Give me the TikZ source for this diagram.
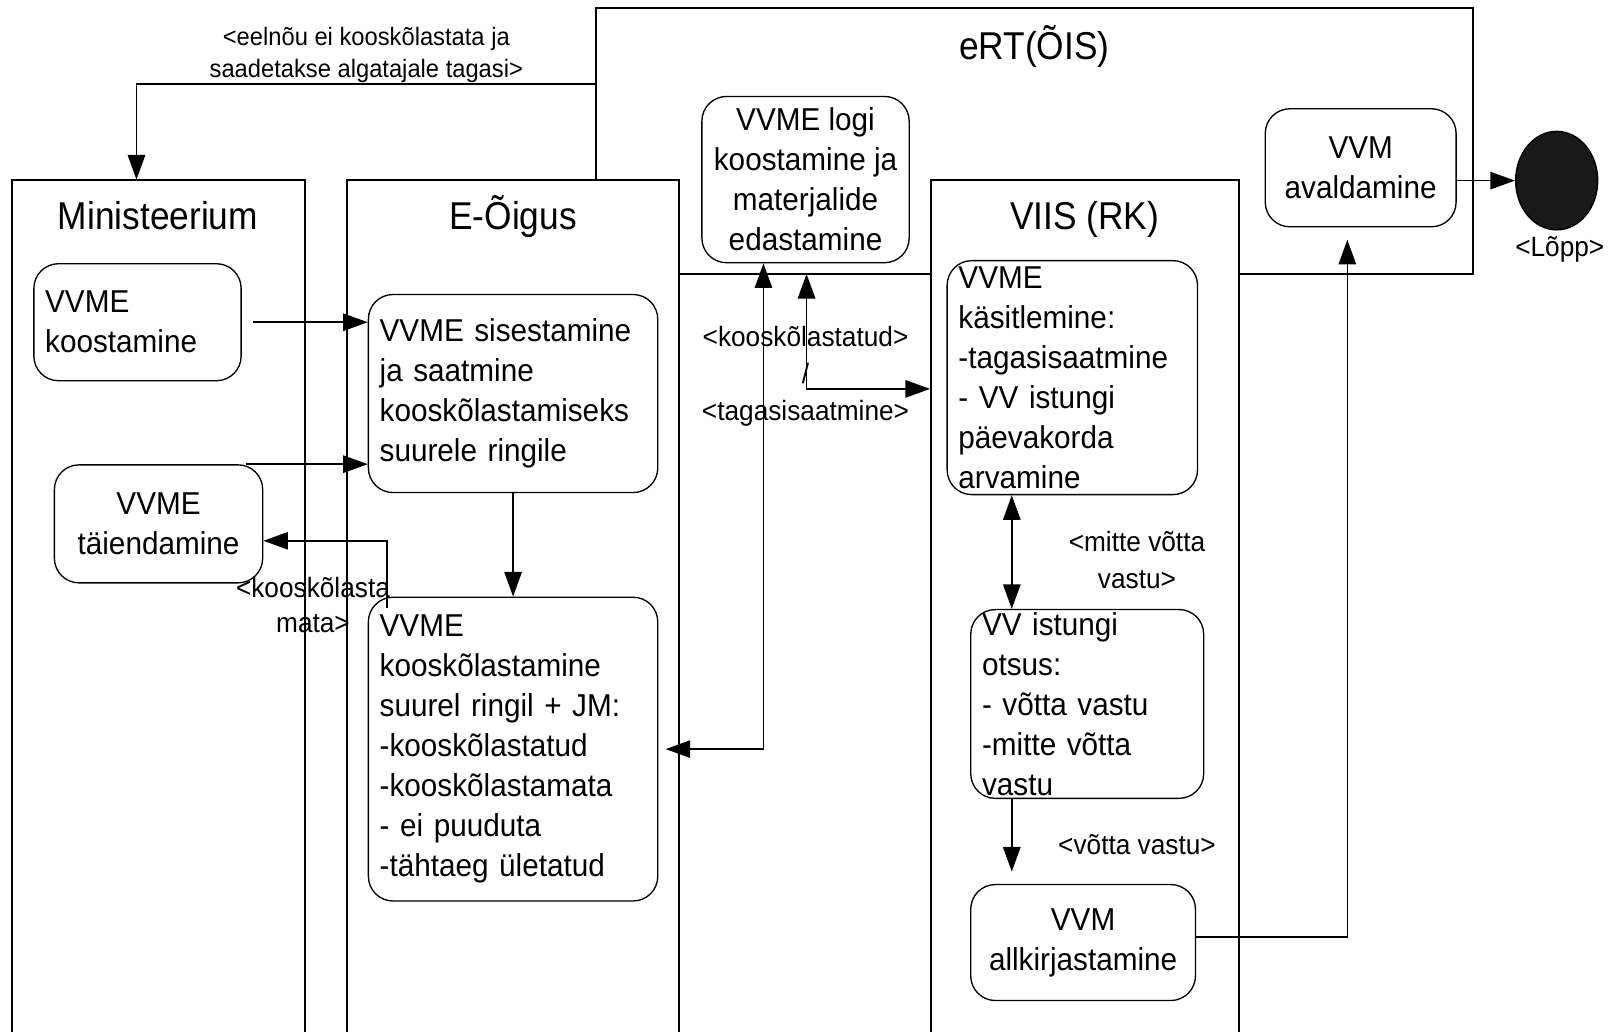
\documentclass[tikz,border=0pt]{standalone}
\usepackage{fontspec}
\setmainfont{Liberation Sans}
\newfontfamily\nodefont[FakeStretch=0.94]{Liberation Sans}
\newfontfamily\titlefont[FakeStretch=0.91]{Liberation Sans}
\usetikzlibrary{arrows.meta,shapes.geometric}
\begin{document}
\begin{tikzpicture}[x=1pt,y=-1pt,
  lane/.style={line width=2pt},
  box/.style={draw,rounded corners=24pt,line width=1.3pt,fill=white,inner xsep=11pt,inner ysep=0pt,font=\nodefont\fontsize{30.8}{39}\selectfont},
  lbox/.style={box,align=left},
  cbox/.style={box,align=center},
  ttl/.style={font=\titlefont\fontsize{37.8}{40}\selectfont,anchor=base,inner sep=0pt},
  lbl/.style={font=\nodefont\fontsize{27.2}{36}\selectfont,align=center,inner sep=0pt},
  conn/.style={line width=1.5pt,-{Triangle[length=24pt,width=17pt]}},
  conn2/.style={line width=1.5pt,{Triangle[length=24pt,width=17pt]}-{Triangle[length=24pt,width=17pt]}},
]
\useasboundingbox (0,0) rectangle (1568,1005);
% eRT(ÕIS) container
\draw[lane] (581,175) |- (1435,8) |- (1207,267);
\draw[lane] (907,267) -- (662,267);
% swimlanes
\draw[lane] (12,1010) |- (297,175) -- (297,1010);
\draw[lane] (338,1010) |- (662,175) -- (662,1010);
\draw[lane] (907,1010) |- (1207,175) -- (1207,1010);
% titles
\node[ttl] (tmin) at (154,224) {Ministeerium};
\node[ttl] (teo) at (500,224) {E-Õigus};
\node[ttl] (tviis) at (1057,224) {VIIS (RK)};
\node[ttl] (tert) at (1008,58) {eRT(ÕIS)};
% activity nodes
\node[lbox,text width=180pt,minimum height=114pt] (koost) at (134,314) {VVME\\koostamine};
\node[cbox,minimum width=203pt,minimum height=115pt] (taiend) at (154.5,510.5) {VVME\\täiendamine};
\node[lbox,text width=260pt,minimum height=193pt] (sises) at (500,383.5) {VVME sisestamine\\ja saatmine\\kooskõlastamiseks\\suurele ringile};
\node[lbox,text width=260pt,minimum height=296pt] (kook) at (500,730) {VVME\\kooskõlastamine\\suurel ringil + JM:\\-kooskõlastatud\\-kooskõlastamata\\- ei puuduta\\-tähtaeg ületatud};
\node[cbox,minimum width=202pt,minimum height=162pt] (logi) at (785,175) {VVME logi\\koostamine ja\\materjalide\\edastamine};
\node[cbox,minimum width=186pt,minimum height=115pt] (aval) at (1326,163.5) {VVM\\avaldamine};
\node[lbox,text width=222pt,minimum height=228pt] (kasit) at (1045,368) {VVME\\käsitlemine:\\-tagasisaatmine\\- VV istungi\\päevakorda\\arvamine};
\node[lbox,text width=205pt,minimum height=184pt] (otsus) at (1059.5,686) {VV istungi\\otsus:\\- võtta vastu\\-mitte võtta\\vastu};
\node[cbox,minimum width=219pt,minimum height=113pt] (allk) at (1055.5,918.5) {VVM\\allkirjastamine};
\node[ellipse,draw,fill=black!90,line width=1.3pt,minimum width=80pt,minimum height=96pt,inner sep=0pt] (lopp) at (1517,176) {};
% free ends
\coordinate (ertL) at (581,82);
\coordinate (minT) at (133,175);
\coordinate (ertB) at (786,267);
% connectors
\draw[conn] (ertL) -| (minT);
\draw[conn] ([xshift=11pt]koost.east) -- (sises.west |- koost.east);
\draw[conn] ([xshift=85.5pt]taiend.north) -- (sises.west |- taiend.north);
\draw[conn] (sises.south) -- (kook.north);
\draw[conn] ([xshift=19pt,yshift=-11pt]kook.north west) |- ([yshift=-16.5pt]taiend.east);
\draw[conn2] ([xshift=-41pt]logi.south) |- ([xshift=7pt]kook.east);
\draw[conn2] (ertB) |- ([xshift=-16pt,yshift=-11pt]kasit.west);
\draw[conn2] ([xshift=-59pt]kasit.south) -- ([xshift=-73.5pt]otsus.north);
\draw[conn] ([xshift=-73.5pt]otsus.south) -- ([xshift=-69.5pt,yshift=12pt]allk.north);
\draw[conn] ([yshift=5.5pt]allk.east) -| ([xshift=-13pt,yshift=-12pt]aval.south);
\draw[conn] ([yshift=-12.5pt]aval.east) -- (lopp.west);
% labels
\node[lbl,font=\nodefont\fontsize{24.6}{31}\selectfont] (leel) at (357,53.5) {<eelnõu ei kooskõlastata ja\\saadetakse algatajale tagasi>};
\node[lbl,font=\nodefont\fontsize{27.2}{34}\selectfont] (lkm) at (305,590) {<kooskõlasta\\mata>};
\node[lbl] (lkt) at (785,367) {<kooskõlastatud>\\/\\<tagasisaatmine>};
\node[lbl] (lmv) at (1108,546) {<mitte võtta\\vastu>};
\node[lbl] (lvv) at (1108,823) {<võtta vastu>};
\node[lbl] (llopp) at (1520,243) {<Lõpp>};
\end{tikzpicture}
\end{document}
